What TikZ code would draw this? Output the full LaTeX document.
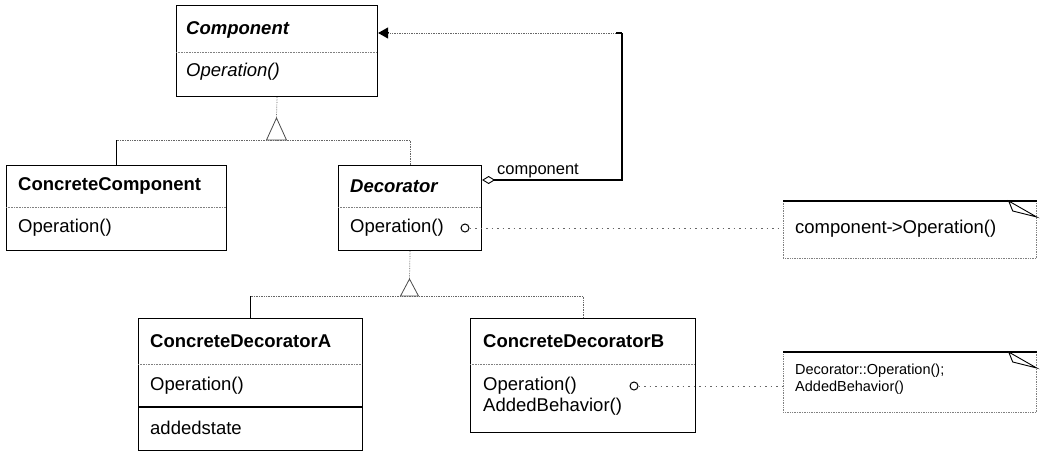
\documentclass[tikz,border=0pt]{standalone}
\usepackage{fontspec}
\setmainfont{Liberation Sans}
\usetikzlibrary{arrows.meta,calc}
\begin{document}
\begin{tikzpicture}[x=1pt,y=-1pt,
  classbox/.style={draw=black, line width=1.1pt, inner sep=0pt, anchor=north west},
  notebox/.style={draw=gray, densely dotted, line width=0.7pt, inner sep=0pt, anchor=north west},
  txt/.style={anchor=west, inner sep=0pt, font=\fontsize{18.5}{21}\selectfont},
  smalltxt/.style={anchor=west, inner sep=0pt, font=\fontsize{14.5}{17}\selectfont},
  sep/.style={draw=gray, densely dotted, line width=0.6pt},
  link/.style={draw=gray!80!black, densely dotted, line width=0.7pt},
  solidlink/.style={draw=black, line width=1.1pt},
  gentri/.style={draw=gray!60!black, line width=0.8pt, fill=white},
  pin/.style={circle, draw=black, line width=1pt, minimum size=8pt, inner sep=0pt},
  dogear/.style={draw=black, line width=0.9pt, fill=white},
]
\useasboundingbox (0,0) rectangle (1040,452);

% ---- classes ----
\node[classbox, minimum width=201pt, minimum height=91pt] (comp) at (176,5) {};
\node[txt] (compname) at (186,30) {\textbf{\textit{Component}}};
\node[txt] (compop) at (186,72) {\textit{Operation()}};
\draw[sep] (176,52) -- (377,52);

\node[classbox, minimum width=220pt, minimum height=85pt] (cc) at (6,165) {};
\node[txt] (ccname) at (18,186) {\textbf{ConcreteComponent}};
\node[txt] (ccop) at (18,228) {Operation()};
\draw[sep] (6,207) -- (226,207);

\node[classbox, minimum width=143pt, minimum height=85pt] (dec) at (338,165) {};
\node[txt] (decname) at (350,186) {\textbf{\textit{Decorator}}};
\node[txt] (decop) at (350,228) {Operation()};
\draw[sep] (338,207) -- (481,207);
\node[pin] (c1) at (465,228) {};

\node[classbox, minimum width=224pt, minimum height=132pt] (cda) at (138,318) {};
\node[txt] (cdaname) at (150,341) {\textbf{ConcreteDecoratorA}};
\node[txt] (cdaop) at (150,386) {Operation()};
\node[txt] (cdastate) at (150,428) {addedstate};
\draw[sep] (138,364) -- (362,364);
\draw[black, line width=1.1pt] (138,407) -- (362,407);

\node[classbox, minimum width=225pt, minimum height=114pt] (cdb) at (470,318) {};
\node[txt] (cdbname) at (483,341) {\textbf{ConcreteDecoratorB}};
\node[txt] (cdbop) at (483,386) {Operation()};
\node[txt] (cdbadd) at (483,407) {AddedBehavior()};
\draw[sep] (470,364) -- (695,364);
\node[pin] (c2) at (634,386) {};

% ---- notes ----
\node[notebox, minimum width=253pt, minimum height=57pt] (note1) at (783,201) {};
\draw[black, line width=1.1pt] (note1.north west) -- (note1.north east);
\draw[dogear] ($(note1.north east)+(-28,0)$) -- ($(note1.north east)+(-24,10)$) -- ($(note1.north east)+(0,16)$) -- cycle;
\node[txt] (note1txt) at (795,229) {component-\kern-1pt>Operation()};

\node[notebox, minimum width=253pt, minimum height=60pt] (note2) at (783,352) {};
\draw[black, line width=1.1pt] (note2.north west) -- (note2.north east);
\draw[dogear] ($(note2.north east)+(-28,0)$) -- ($(note2.north east)+(-24,10)$) -- ($(note2.north east)+(0,16)$) -- cycle;
\node[smalltxt] (note2a) at (795,371) {Decorator::Operation();};
\node[smalltxt] (note2b) at (795,388) {AddedBehavior()};

% ---- generalization: Component <- ConcreteComponent, Decorator ----
\coordinate (g1) at (276.5,118);
\coordinate (b1) at (276.5,140);
\draw[link] (comp.south) -- (g1);
\draw[gentri] (g1) -- ($(b1)+(-10,0)$) -- ($(b1)+(10,0)$) -- cycle;
\draw[link] (cc.north |- b1) -- (b1) -| (dec.north);
\draw[solidlink] (cc.north) -- (cc.north |- b1);

% ---- generalization: Decorator <- ConcreteDecoratorA, ConcreteDecoratorB ----
\coordinate (g2) at (409.5,279);
\coordinate (b2) at (409.5,296);
\draw[link] (dec.south) -- (g2);
\draw[gentri] (g2) -- ($(b2)+(-9,0)$) -- ($(b2)+(9,0)$) -- cycle;
\draw[link] (cda.north |- b2) -- (b2) -| (cdb.north);
\draw[solidlink] (cda.north) -- (cda.north |- b2);

% ---- aggregation: Decorator <>-- component --> Component ----
\coordinate (aggS) at ($(dec.north east)+(0,15)$);
\coordinate (aggT) at ($(comp.north east)+(0,28)$);
\coordinate (corner1) at (622,180);
\coordinate (corner2) at (622,33);
\draw[solidlink, {Diamond[open, length=13pt, width=8pt, line width=0.9pt]}-] (aggS) -- (corner1) -- (corner2);
\draw[link] (corner2) -- ($(aggT)+(10,0)$);
\draw[black, -{Triangle[length=10pt, width=11pt]}, line width=1pt] ($(aggT)+(11,0)$) -- (aggT);
\draw[solidlink] (corner2) -- ++(-6,0);
\node[txt, font=\fontsize{16.5}{19}\selectfont] (aggl) at (497,171) {component};

% ---- implementation notes ----
\draw[link, dash pattern=on 1.5pt off 4pt] (c1.east) -- (c1.east -| note1.west);
\draw[link, dash pattern=on 1.5pt off 4pt] (c2.east) -- (c2.east -| note2.west);
\end{tikzpicture}
\end{document}
